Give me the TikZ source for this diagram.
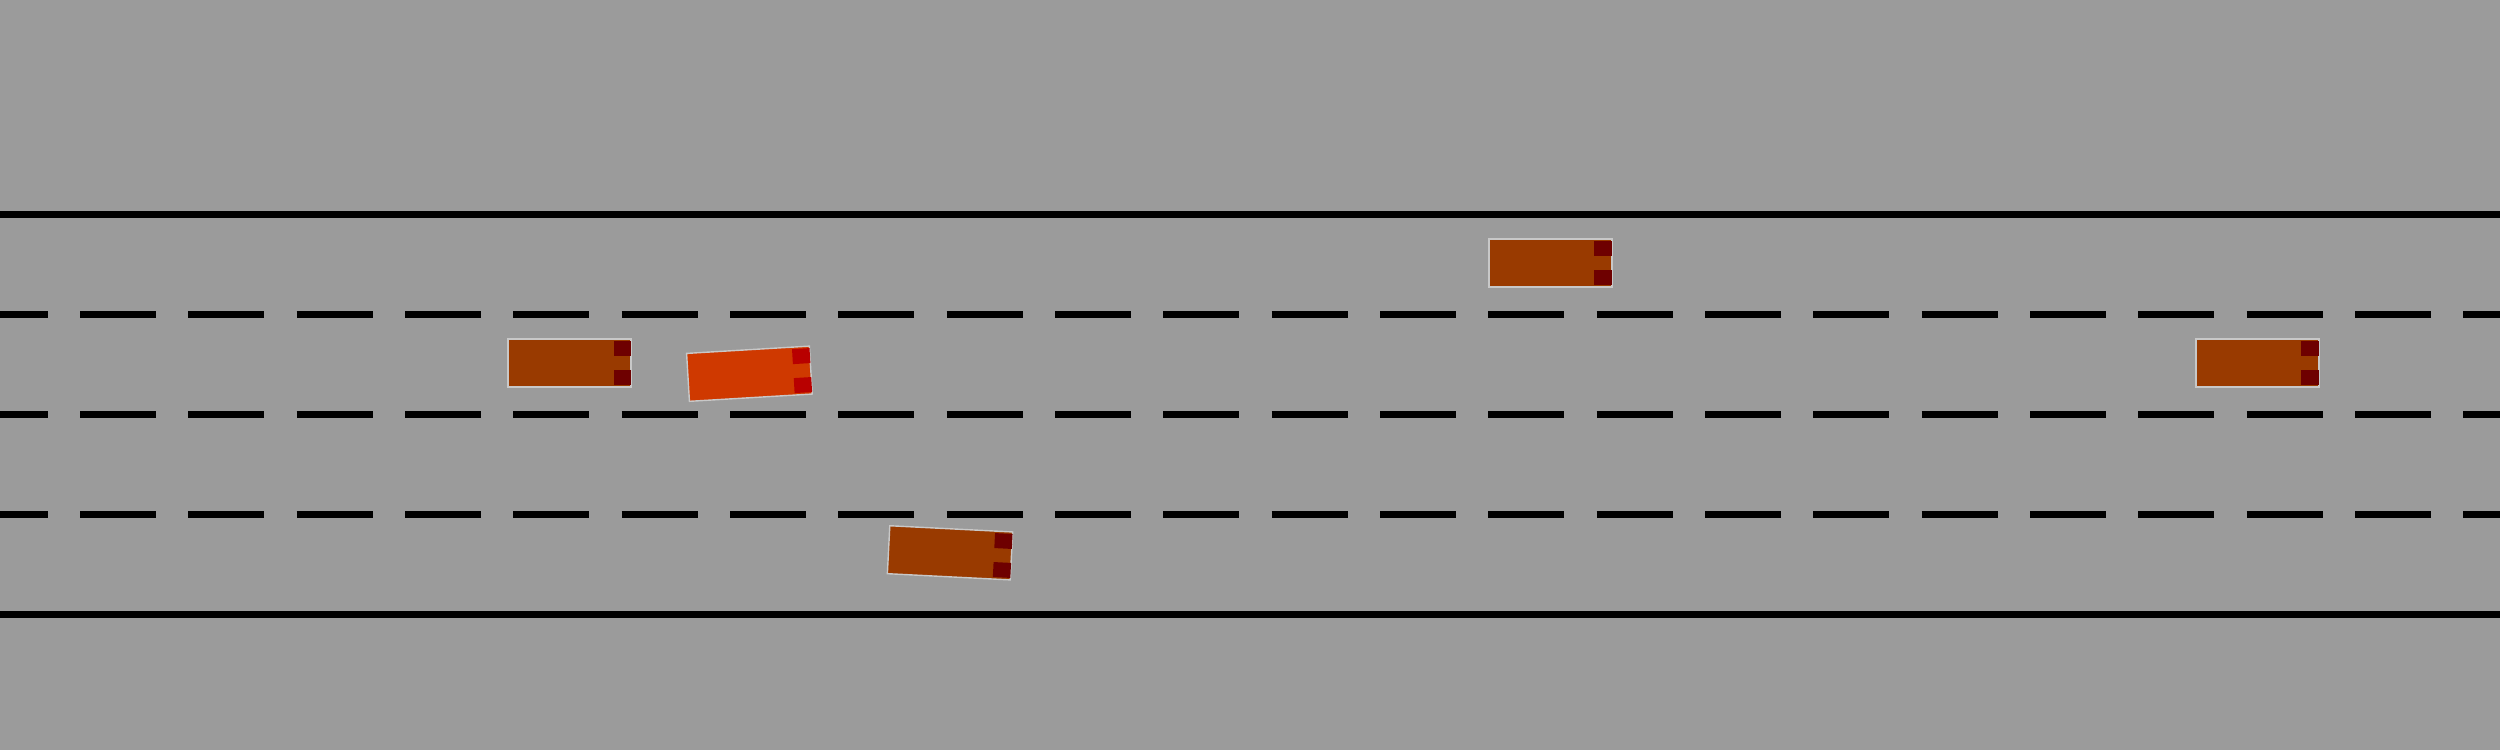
\documentclass[tikz,border=0pt]{standalone}
\usepackage{tikz}
\definecolor{roadgray}{RGB}{155,155,155}
\definecolor{carbody}{RGB}{153,58,0}
\definecolor{carlamp}{RGB}{110,0,0}
\definecolor{egobody}{RGB}{207,57,0}
\definecolor{egolamp}{RGB}{184,0,0}
\definecolor{carrim}{RGB}{200,200,200}

% one vehicle: centre x, centre y, heading, body colour, lamp colour
\newcommand{\vehicle}[5]{%
  \begin{scope}[shift={(#1,#2)},rotate=#3]
    \filldraw[body,fill=#4] (-61.5,-24) rectangle (61.5,24);
    \fill[#5] (44,-22) rectangle (61.5,-7);
    \fill[#5] (44,7) rectangle (61.5,22);
  \end{scope}}

\begin{document}
\begin{tikzpicture}[x=0.01cm, y=-0.01cm]
      \tikzstyle{edge}=[line width=0.07cm]
      \tikzstyle{stripe}=[line width=0.07cm,dash pattern=on 0.76cm off 0.3227cm]
      \tikzstyle{body}=[draw=carrim,line width=0.4pt]
      \fill[roadgray] (0,0) rectangle (2500,750);
      \useasboundingbox (0,0) rectangle (2500,750);
      % road borders
      \draw[edge] (0,214.5) -- (2500,214.5);
      \draw[edge] (0,614.5) -- (2500,614.5);
      % lane markings
      \foreach \y in {314.5,414.5,514.5}
        \draw[stripe] (-28.27,\y) -- (2500,\y);
      % vehicles
      \vehicle{1550.3}{262.8}{0}{carbody}{carlamp}
      \vehicle{569.5}{362.8}{0}{carbody}{carlamp}
      \vehicle{2257.3}{362.8}{0}{carbody}{carlamp}
      \vehicle{950}{552.8}{-2.9}{carbody}{carlamp}
      \vehicle{749.4}{373.7}{3.4}{egobody}{egolamp}
    \end{tikzpicture}
\end{document}
